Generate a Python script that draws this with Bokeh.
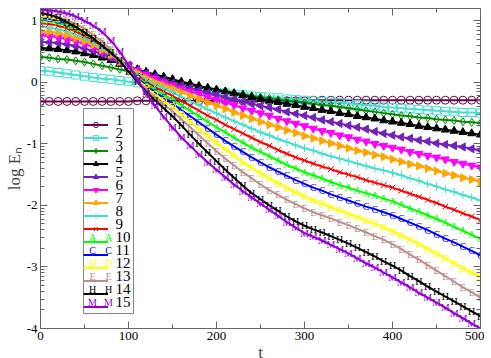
import math
from bokeh.plotting import figure
from bokeh.models import (Legend, LegendItem, LinearAxis, FixedTicker, Range1d,
                          ColumnDataSource, PrintfTickFormatter, CustomJSTickFormatter)
from bokeh.core.properties import value
from bokeh.embed import file_html
from bokeh.resources import INLINE

# ---------------- data ----------------
t = list(range(0, 501, 10))

e1 = [-0.31, -0.31, -0.31, -0.31, -0.31, -0.31, -0.31, -0.31, -0.31, -0.31, -0.31,
      -0.30, -0.30, -0.30, -0.30, -0.30, -0.30, -0.30, -0.30, -0.30, -0.30,
      -0.30, -0.30, -0.30, -0.30, -0.30, -0.30, -0.30, -0.30, -0.30, -0.30,
      -0.29, -0.29, -0.29, -0.29, -0.29, -0.29, -0.29, -0.29, -0.29, -0.29,
      -0.29, -0.29, -0.29, -0.29, -0.29, -0.29, -0.29, -0.29, -0.29, -0.29]
e2 = [0.19, 0.18, 0.16, 0.14, 0.12, 0.10, 0.08, 0.06, 0.05, 0.03, 0.01,
      -0.01, -0.03, -0.04, -0.06, -0.08, -0.10, -0.11, -0.13, -0.14, -0.16,
      -0.17, -0.19, -0.20, -0.22, -0.23, -0.24, -0.25, -0.27, -0.28, -0.29,
      -0.30, -0.31, -0.32, -0.33, -0.34, -0.36, -0.37, -0.38, -0.40, -0.41,
      -0.42, -0.43, -0.44, -0.45, -0.46, -0.47, -0.48, -0.49, -0.49, -0.50]
e3 = [0.41, 0.40, 0.38, 0.37, 0.35, 0.33, 0.30, 0.27, 0.24, 0.21, 0.18,
      0.15, 0.11, 0.08, 0.05, 0.02, -0.01, -0.04, -0.07, -0.09, -0.12,
      -0.14, -0.17, -0.19, -0.22, -0.24, -0.26, -0.28, -0.30, -0.31, -0.33,
      -0.35, -0.37, -0.38, -0.40, -0.42, -0.44, -0.46, -0.48, -0.50, -0.52,
      -0.54, -0.55, -0.57, -0.58, -0.60, -0.61, -0.62, -0.64, -0.65, -0.66]
e4 = [0.56, 0.55, 0.54, 0.52, 0.50, 0.47, 0.44, 0.40, 0.36, 0.30, 0.25,
      0.21, 0.17, 0.13, 0.09, 0.05, 0.01, -0.02, -0.06, -0.09, -0.12,
      -0.15, -0.18, -0.21, -0.24, -0.27, -0.30, -0.32, -0.35, -0.37, -0.40,
      -0.42, -0.45, -0.47, -0.50, -0.52, -0.55, -0.57, -0.59, -0.62, -0.64,
      -0.66, -0.68, -0.71, -0.73, -0.75, -0.77, -0.79, -0.81, -0.83, -0.85]
e5 = [0.66, 0.65, 0.64, 0.62, 0.59, 0.55, 0.51, 0.46, 0.40, 0.33, 0.28,
      0.21, 0.15, 0.09, 0.04, -0.01, -0.05, -0.09, -0.13, -0.17, -0.20,
      -0.24, -0.28, -0.31, -0.35, -0.38, -0.41, -0.44, -0.48, -0.51, -0.54,
      -0.57, -0.61, -0.64, -0.67, -0.70, -0.73, -0.76, -0.80, -0.83, -0.86,
      -0.89, -0.91, -0.94, -0.96, -0.99, -1.01, -1.03, -1.05, -1.08, -1.10]
e6 = [0.76, 0.75, 0.73, 0.70, 0.67, 0.62, 0.57, 0.50, 0.43, 0.34, 0.27,
      0.19, 0.12, 0.06, 0.00, -0.05, -0.10, -0.15, -0.19, -0.24, -0.28,
      -0.33, -0.37, -0.42, -0.46, -0.50, -0.54, -0.59, -0.63, -0.67, -0.71,
      -0.75, -0.79, -0.82, -0.86, -0.89, -0.93, -0.96, -1.00, -1.03, -1.06,
      -1.09, -1.13, -1.16, -1.19, -1.22, -1.25, -1.29, -1.32, -1.35, -1.38]
e7 = [0.83, 0.82, 0.80, 0.77, 0.72, 0.67, 0.61, 0.53, 0.45, 0.34, 0.25,
      0.15, 0.07, 0.00, -0.05, -0.10, -0.16, -0.22, -0.27, -0.33, -0.38,
      -0.43, -0.49, -0.54, -0.59, -0.64, -0.69, -0.73, -0.78, -0.82, -0.87,
      -0.91, -0.95, -0.99, -1.03, -1.07, -1.11, -1.14, -1.18, -1.21, -1.25,
      -1.29, -1.33, -1.36, -1.40, -1.44, -1.48, -1.51, -1.55, -1.58, -1.62]
e8 = [0.90, 0.89, 0.86, 0.83, 0.78, 0.72, 0.65, 0.56, 0.47, 0.35, 0.24,
      0.13, 0.04, -0.04, -0.10, -0.16, -0.24, -0.31, -0.37, -0.44, -0.50,
      -0.57, -0.63, -0.69, -0.75, -0.81, -0.86, -0.92, -0.97, -1.02, -1.07,
      -1.11, -1.16, -1.20, -1.24, -1.28, -1.32, -1.36, -1.40, -1.43, -1.47,
      -1.51, -1.56, -1.60, -1.65, -1.69, -1.74, -1.78, -1.83, -1.87, -1.92]
e9 = [0.96, 0.95, 0.92, 0.88, 0.83, 0.76, 0.68, 0.59, 0.48, 0.35, 0.23,
      0.11, 0.01, -0.08, -0.15, -0.22, -0.30, -0.38, -0.46, -0.54, -0.61,
      -0.69, -0.76, -0.83, -0.90, -0.97, -1.03, -1.10, -1.16, -1.22, -1.27,
      -1.32, -1.37, -1.41, -1.46, -1.50, -1.54, -1.59, -1.63, -1.67, -1.71,
      -1.76, -1.81, -1.86, -1.91, -1.96, -2.02, -2.07, -2.13, -2.18, -2.24]
e10 = [1.01, 1.00, 0.97, 0.92, 0.87, 0.80, 0.71, 0.61, 0.50, 0.36, 0.22,
       0.09, -0.02, -0.12, -0.20, -0.28, -0.37, -0.46, -0.55, -0.64, -0.73,
       -0.81, -0.90, -0.98, -1.06, -1.13, -1.20, -1.27, -1.34, -1.40, -1.46,
       -1.51, -1.56, -1.62, -1.67, -1.71, -1.76, -1.80, -1.84, -1.89, -1.93,
       -1.99, -2.05, -2.10, -2.16, -2.22, -2.28, -2.35, -2.41, -2.48, -2.54]
e11 = [1.05, 1.03, 1.00, 0.96, 0.90, 0.82, 0.73, 0.63, 0.51, 0.36, 0.21,
       0.07, -0.05, -0.16, -0.25, -0.34, -0.45, -0.55, -0.65, -0.75, -0.85,
       -0.95, -1.04, -1.13, -1.22, -1.30, -1.38, -1.45, -1.52, -1.59, -1.65,
       -1.71, -1.76, -1.82, -1.87, -1.92, -1.97, -2.02, -2.06, -2.11, -2.16,
       -2.22, -2.28, -2.34, -2.40, -2.47, -2.54, -2.60, -2.67, -2.74, -2.81]
e12 = [1.08, 1.06, 1.03, 0.99, 0.92, 0.85, 0.75, 0.64, 0.52, 0.36, 0.20,
       0.05, -0.08, -0.20, -0.30, -0.40, -0.52, -0.64, -0.75, -0.87, -0.98,
       -1.09, -1.19, -1.30, -1.39, -1.48, -1.56, -1.64, -1.72, -1.79, -1.86,
       -1.92, -1.97, -2.03, -2.08, -2.14, -2.19, -2.25, -2.30, -2.36, -2.42,
       -2.49, -2.56, -2.63, -2.71, -2.78, -2.86, -2.94, -3.02, -3.09, -3.17]
e13 = [1.11, 1.09, 1.06, 1.01, 0.95, 0.87, 0.77, 0.66, 0.53, 0.36, 0.19,
       0.03, -0.11, -0.24, -0.36, -0.47, -0.60, -0.73, -0.86, -0.99, -1.12,
       -1.24, -1.35, -1.46, -1.56, -1.66, -1.75, -1.83, -1.91, -1.98, -2.05,
       -2.11, -2.16, -2.21, -2.27, -2.32, -2.38, -2.44, -2.50, -2.56, -2.63,
       -2.71, -2.80, -2.88, -2.97, -3.06, -3.15, -3.24, -3.33, -3.41, -3.50]
e14 = [1.13, 1.10, 1.05, 0.98, 0.90, 0.81, 0.71, 0.60, 0.48, 0.35, 0.18,
       0.01, -0.15, -0.29, -0.42, -0.55, -0.70, -0.85, -1.00, -1.14, -1.28,
       -1.42, -1.55, -1.68, -1.80, -1.90, -2.00, -2.09, -2.18, -2.26, -2.33,
       -2.39, -2.44, -2.50, -2.56, -2.62, -2.69, -2.76, -2.83, -2.91, -2.98,
       -3.06, -3.15, -3.23, -3.32, -3.40, -3.48, -3.56, -3.64, -3.72, -3.80]
e15 = [1.18, 1.17, 1.15, 1.12, 1.07, 1.00, 0.92, 0.82, 0.68, 0.50, 0.28,
       0.05, -0.18, -0.38, -0.56, -0.73, -0.89, -1.03, -1.17, -1.30, -1.42,
       -1.54, -1.66, -1.77, -1.87, -1.97, -2.07, -2.17, -2.27, -2.36, -2.45,
       -2.51, -2.57, -2.64, -2.71, -2.78, -2.86, -2.94, -3.01, -3.09, -3.17,
       -3.25, -3.33, -3.42, -3.50, -3.58, -3.66, -3.75, -3.83, -3.92, -4.00]

series = [e1, e2, e3, e4, e5, e6, e7, e8, e9, e10, e11, e12, e13, e14, e15]
labels = ["1", "2", "3", "4", "5", "6", "7", "8", "9", "10", "11", "12", "13", "14", "15"]
x_ticks = [0, 100, 200, 300, 400, 500]
x_minor = [50, 150, 250, 350, 450]
y_ticks = [-4, -3, -2, -1, 0, 1]

# ---------------- styles ----------------
colors = ["#670748", "#40e0d0", "#008b00", "#000000", "#7221bc", "#ff00ff",
          "#ffa500", "#40e0d0", "#ff0000", "#00ff00", "#0000ff", "#ffff00",
          "#bc8f8f", "#000000", "#9400d3"]
# (kind, marker/char, angle, filled)
styles = [("m", "circle", 0, False), ("m", "square", 0, False),
          ("m", "diamond", 0, False), ("m", "triangle", 0, True),
          ("m", "triangle", math.pi / 2, True), ("m", "inverted_triangle", 0, True),
          ("m", "triangle", -math.pi / 2, True), ("m", "cross", 0, False),
          ("m", "x", 0, False), ("c", "A", 0, False), ("c", "C", 0, False),
          ("c", "D", 0, False), ("c", "E", 0, False), ("c", "H", 0, False),
          ("c", "M", 0, False)]

FONT = "Liberation Serif"
AX = "#666666"
X0, X1, Y0, Y1 = 0, 500, -4, 1.2
FW, FH = 440, 320

p = figure(frame_width=FW, frame_height=FH, output_backend="svg",
           toolbar_location=None, x_range=Range1d(X0, X1), y_range=Range1d(Y0, Y1),
           min_border_left=40, min_border_right=4, min_border_top=8,
           min_border_bottom=20, background_fill_color="white")
p.xgrid.visible = False
p.ygrid.visible = False
p.outline_line_color = AX

y_minor = [k + math.log10(m) for k in range(-4, 1) for m in range(2, 10)]
xt = FixedTicker(ticks=x_ticks, minor_ticks=x_minor)
yt = FixedTicker(ticks=y_ticks, minor_ticks=y_minor)

def style_axis(ax, show_labels):
    ax.axis_line_color = AX
    ax.major_tick_line_color = AX
    ax.minor_tick_line_color = AX
    ax.major_tick_in = 7
    ax.major_tick_out = 0
    ax.minor_tick_in = 4
    ax.minor_tick_out = 0
    ax.major_label_text_font = FONT
    ax.major_label_text_color = "black"
    ax.major_label_text_font_size = "13px"
    if not show_labels:
        ax.formatter = CustomJSTickFormatter(code="return '';")
        ax.major_label_standoff = 0

p.xaxis.ticker = xt
p.yaxis.ticker = yt
p.xaxis.formatter = PrintfTickFormatter(format="%d")
p.yaxis.formatter = PrintfTickFormatter(format="%d")
style_axis(p.xaxis[0], True)
style_axis(p.yaxis[0], True)
p.xaxis.major_label_standoff = 3
p.yaxis.major_label_standoff = 3
p.xaxis.axis_label = "t"
p.yaxis.axis_label = "log E\u2099"
for ax in (p.xaxis[0], p.yaxis[0]):
    ax.axis_label_text_font = FONT
    ax.axis_label_text_font_size = "17px"
    ax.axis_label_text_font_style = "normal"
    ax.axis_label_standoff = 0

top = LinearAxis(ticker=FixedTicker(ticks=x_ticks, minor_ticks=x_minor))
style_axis(top, False)
p.add_layout(top, "above")
right = LinearAxis(ticker=FixedTicker(ticks=y_ticks, minor_ticks=y_minor))
style_axis(right, False)
p.add_layout(right, "right")

items = []
for s, lab, col, st in zip(series, labels, colors, styles):
    src = ColumnDataSource(dict(t=t, v=s, ch=[st[1]] * len(t)))
    ln = p.line("t", "v", source=src, line_color=col, line_width=2)
    rs = [ln]
    if st[0] == "m":
        sc = p.scatter("t", "v", source=src, marker=st[1], angle=st[2], size=8,
                       line_color=col, line_width=1,
                       fill_color=col if st[3] else None)
        rs.append(sc)
    else:
        tx = p.text("t", "v", text="ch", source=src, text_color=col,
                    text_font=value(FONT), text_font_size=value("10px"),
                    text_align="center", text_baseline="middle")
        rs.append(tx)
    items.append(LegendItem(label=" ", renderers=rs))

# legend layout (screen pixels inside the frame)
LEG_X, LEG_Y, PAD, ROW, GW, LSO, LW = 43, 15, 5, 13, 25, 2, 13
n = len(labels)
leg_h = 2 * PAD + n * ROW
leg_w = 2 * PAD + GW + LSO + LW

def sx_to_data(px):
    return X0 + px * (X1 - X0) / FW

def sy_to_data(py):
    return Y0 + py * (Y1 - Y0) / FH

# white legend box with border, above the curves
p.quad(left=[sx_to_data(LEG_X)], right=[sx_to_data(LEG_X + leg_w)],
       bottom=[sy_to_data(LEG_Y)], top=[sy_to_data(LEG_Y + leg_h)],
       fill_color="white", line_color="#888888", line_width=1, level="overlay")

row_y = [sy_to_data(LEG_Y + leg_h - PAD - ROW * i - ROW / 2.0) for i in range(n)]
lab_x = [sx_to_data(LEG_X + PAD + GW + LSO)] * n
p.text(x=lab_x, y=row_y, text=labels, text_font=value(FONT),
       text_font_size=value("15px"), text_align="left", text_baseline="middle",
       text_color="black", level="overlay")

# character symbols at both ends of the legend samples for the char-marker sets
for i, (col, st) in enumerate(zip(colors, styles)):
    if st[0] == "c":
        xs = [sx_to_data(LEG_X + PAD + 4), sx_to_data(LEG_X + PAD + GW - 5)]
        p.text(x=xs, y=[row_y[i], row_y[i]], text=[st[1], st[1]],
               text_font=value(FONT), text_font_size=value("10px"),
               text_align="center", text_baseline="middle", text_color=col,
               level="overlay")

# Bokeh legend draws the line/marker samples on top (transparent, no border)
legend = Legend(items=items, location=(LEG_X, LEG_Y), glyph_width=GW, glyph_height=ROW,
                label_height=ROW, label_width=LW, spacing=0, padding=PAD, margin=0,
                label_standoff=LSO, label_text_font=FONT, label_text_font_size="8px",
                border_line_color=None, background_fill_alpha=0.0)
p.add_layout(legend)

open("out.html", "w").write(file_html(p, INLINE))
